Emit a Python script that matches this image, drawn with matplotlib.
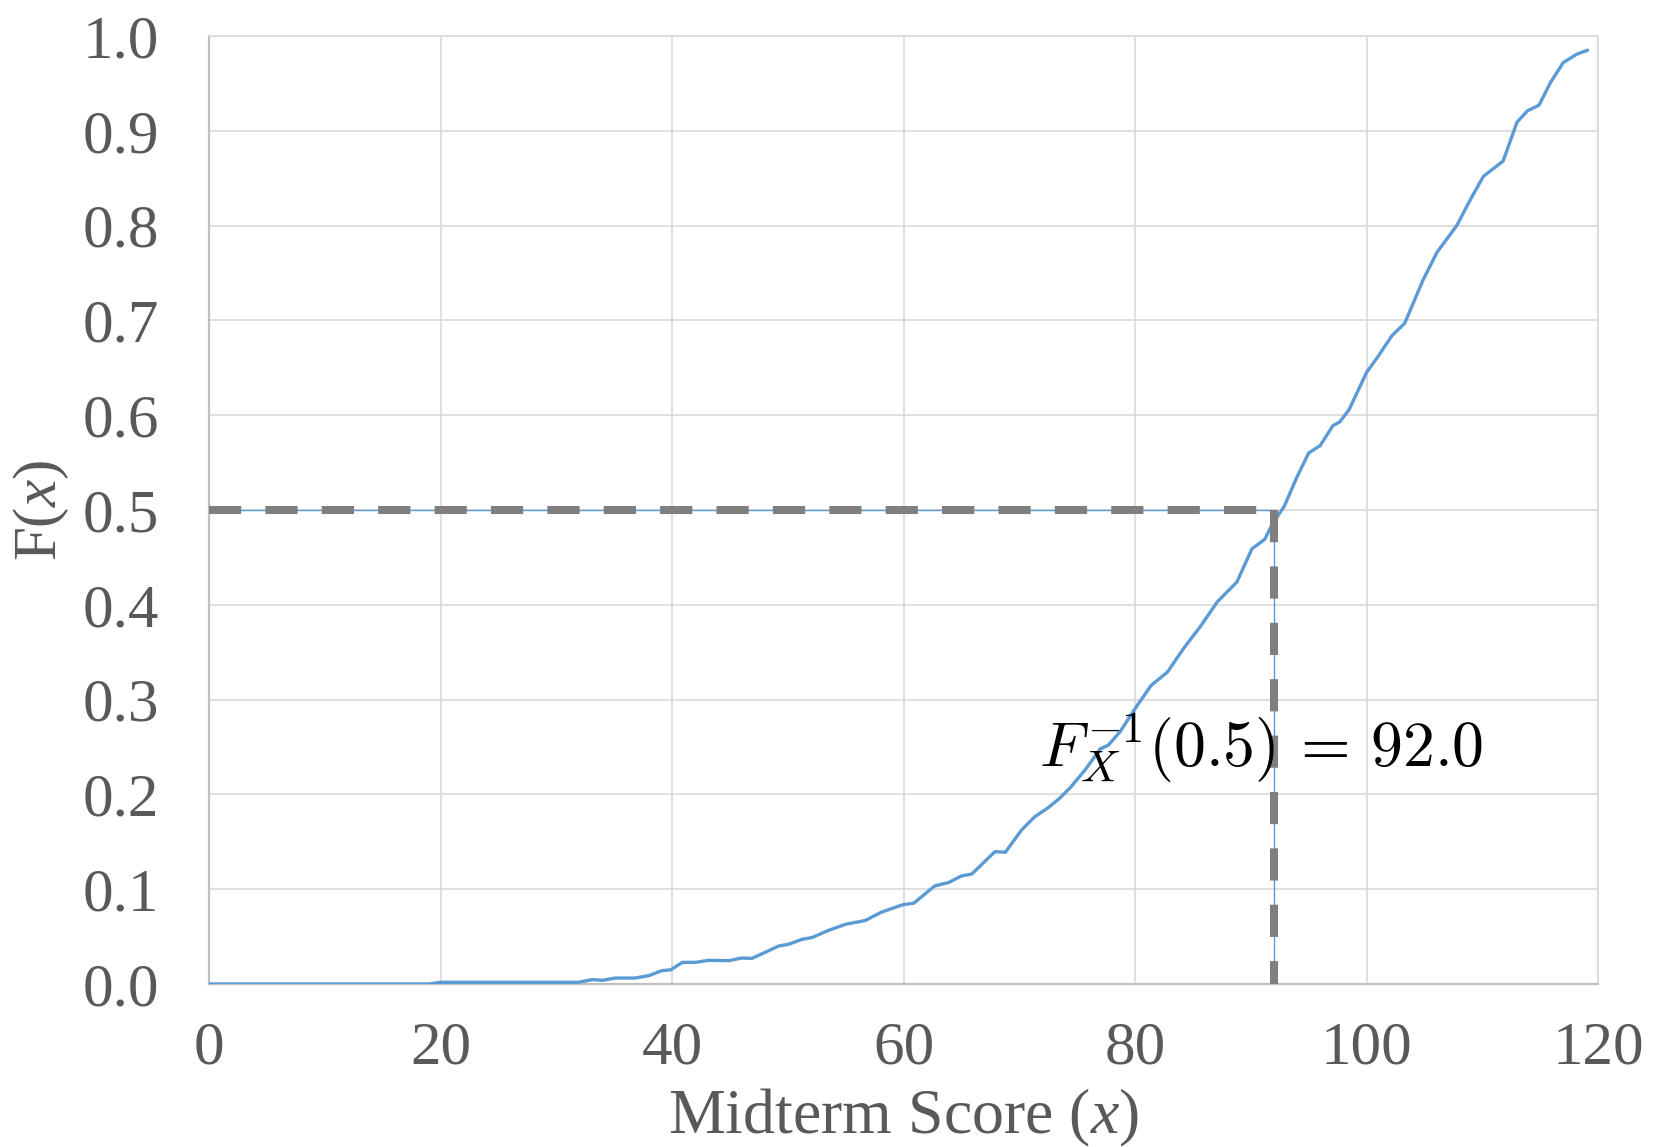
import numpy as np
import matplotlib
matplotlib.use('Agg')
import matplotlib.pyplot as plt

plt.rcParams['font.family'] = ['Liberation Serif', 'DejaVu Serif']
plt.rcParams['mathtext.fontset'] = 'custom'
plt.rcParams['mathtext.rm'] = 'Liberation Serif'
plt.rcParams['mathtext.it'] = 'Liberation Serif:italic'

# CDF of midterm scores
score = [0, 19, 20, 29.4, 31.9, 33.1, 34.0, 35.1, 36.8, 38.0, 39.1, 39.9, 40.9,
         42.0, 43.2, 44.9, 46.0, 46.9, 47.8, 49.2, 50.1, 51.2, 52.1, 53.5, 55.0,
         56.7, 58.1, 59.9, 60.9, 62.7, 63.9, 65.0, 65.9, 67.9, 68.8, 70.2, 71.3,
         72.5, 73.5, 74.4, 75.7, 77.0, 77.7, 78.7, 80.2, 81.4, 82.8, 84.2, 85.7,
         87.1, 88.8, 90.1, 91.2, 91.9, 92.9, 94.0, 95.0, 96.0, 97.1, 97.7, 98.5,
         100.0, 101.0, 102.2, 103.3, 104.9, 106.1, 107.8, 109.0, 110.1, 111.8,
         113.0, 113.9, 114.9, 115.9, 117.0, 118.2, 119.1]
cdf = [0.0, 0.0, 0.0018, 0.0018, 0.0018, 0.0046, 0.0039, 0.0063, 0.0063, 0.0088,
       0.014, 0.015, 0.0228, 0.0228, 0.025, 0.0246, 0.0274, 0.027, 0.032, 0.040,
       0.042, 0.047, 0.049, 0.0565, 0.063, 0.067, 0.0758, 0.0835, 0.0853, 0.1035,
       0.107, 0.114, 0.116, 0.1396, 0.139, 0.1625, 0.176, 0.186, 0.196, 0.207,
       0.226, 0.248, 0.252, 0.266, 0.294, 0.315, 0.329, 0.354, 0.378, 0.403,
       0.424, 0.459, 0.469, 0.486, 0.504, 0.535, 0.560, 0.568, 0.589, 0.593,
       0.606, 0.645, 0.662, 0.684, 0.697, 0.743, 0.772, 0.800, 0.828, 0.852,
       0.868, 0.909, 0.921, 0.927, 0.951, 0.972, 0.981, 0.985]

p = 0.5
median = 92.0

xticks = [0, 20, 40, 60, 80, 100, 120]
yticks = [0.0, 0.1, 0.2, 0.3, 0.4, 0.5, 0.6, 0.7, 0.8, 0.9, 1.0]

fig = plt.figure(figsize=(16.54, 11.47), dpi=100)
ax = fig.add_axes([209/1654, 1 - 984/1147, (1598 - 209)/1654, (984 - 36)/1147])

grey_txt = '#595959'
grid_c = '#d9d9d9'

ax.plot(score, cdf, color='#5b9bd5', lw=2.4, solid_joinstyle='round',
        solid_capstyle='round', zorder=3)

# thin blue guide under the dashed grey one
ax.plot([0, median, median], [p, p, 0], color='#5b9bd5', lw=1.0, zorder=3)
ax.plot([0, median], [p, p], color='#7f7f7f', lw=5.8, dashes=(4, 3),
        dash_capstyle='butt', zorder=4)
ax.plot([median, median], [p, 0], color='#7f7f7f', lw=5.8, dashes=(4, 3),
        dash_capstyle='butt', zorder=4)

ax.text(71.7, 0.229, r'$F_X^{-1}(0.5)\,=\,92.0$', fontsize=46,
        math_fontfamily='cm', color='black', va='baseline', ha='left', zorder=5)

ax.set_xlim(0, 120)
ax.set_ylim(0, 1.0)
ax.set_xticks(xticks)
ax.set_yticks(yticks)
ax.set_xticklabels([str(t) for t in xticks])
ax.set_yticklabels([f'{t:.1f}' for t in yticks])
ax.tick_params(axis='both', length=0, labelsize=44, labelcolor=grey_txt)
ax.tick_params(axis='x', pad=27)
ax.tick_params(axis='y', pad=36)

ax.grid(True, color=grid_c, lw=1.2)
ax.set_axisbelow(True)
for s in ['top', 'right']:
    ax.spines[s].set_color(grid_c)
    ax.spines[s].set_linewidth(1.2)
for s in ['left', 'bottom']:
    ax.spines[s].set_color('#bfbfbf')
    ax.spines[s].set_linewidth(1.6)

ax.set_xlabel('Midterm Score ($x$)', fontsize=46, color=grey_txt, labelpad=7)
ax.set_ylabel('F($x$)', fontsize=44, color=grey_txt, labelpad=8)

fig.savefig('out.png', dpi=100)
